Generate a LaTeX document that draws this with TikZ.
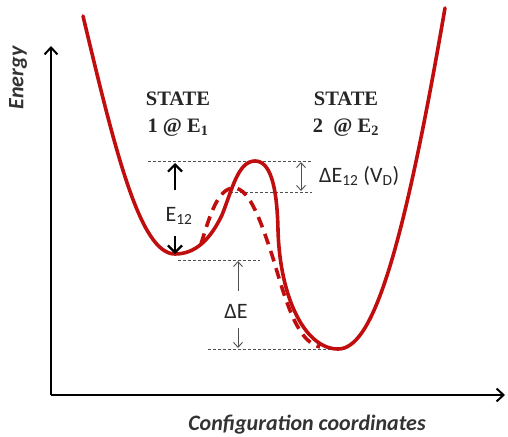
\documentclass[tikz,border=0pt]{standalone}
\usepackage{fontspec}
\setmainfont{Liberation Serif}
\newfontfamily\calibri{Carlito}
\usetikzlibrary{arrows.meta}
\definecolor{curvered}{RGB}{192,14,14}
\definecolor{guidegray}{RGB}{80,80,80}

\begin{document}
\begin{tikzpicture}[x=1pt,y=-1pt,
  well/.style={curvered,line width=3.6pt,line cap=round,line join=round},
  guide/.style={guidegray,line width=0.8pt,dash pattern=on 3pt off 2pt},
  thinarr/.style={guidegray,line width=0.9pt,-{Straight Barb[length=5pt,width=9pt]}},
  boldarr/.style={black,line width=2.2pt,-{Straight Barb[length=7pt,width=14pt]}},
  axisline/.style={black,line width=2pt,-{Straight Barb[length=7pt,width=13pt]}},
  lab/.style={font=\calibri\fontsize{22}{26}\selectfont,text=black!85,inner sep=0pt},
  axislab/.style={font=\calibri\bfseries\itshape\fontsize{22}{26}\selectfont,text=black!80,inner sep=0pt},
  statelab/.style={font=\bfseries\fontsize{20.5}{27}\selectfont,align=center,text=black!85,inner sep=0pt}]
\useasboundingbox (0,0) rectangle (508,436);

% axes
\coordinate (origin) at (51,395);
\coordinate (ytip) at (51,46);
\coordinate (xtip) at (505,395);
\draw[axisline] (origin) -- (ytip);
\draw[axisline] (origin) -- (xtip);
\node[axislab,rotate=90] (energy) at (18,78) {Energy};
\node[axislab] (config) at (307,425) {Configuration coordinates};

% energy levels
\coordinate (peakL) at (148,161);  \coordinate (peakR) at (312,161);
\coordinate (bumpL) at (230,192);  \coordinate (bumpR) at (312,192);
\coordinate (min1L) at (178,260);  \coordinate (min1R) at (260,260);
\coordinate (min2L) at (208,349);  \coordinate (min2R) at (342,349);
\draw[guide] (peakL) -- (peakR);
\draw[guide] (bumpL) -- (bumpR);
\draw[guide] (min1L) -- (min1R);
\draw[guide] (min2L) -- (min2R);

% potential wells
\draw[well] (83,16) .. controls (115,150) and (140,254) .. (175,254)
  .. controls (195,254) and (210,240) .. (222,215)
  .. controls (232,190) and (238,161) .. (255,161)
  .. controls (270,161) and (277,185) .. (278,230)
  .. controls (280,300) and (306,349) .. (338,349)
  .. controls (370,349) and (400,270) .. (445,8);
\draw[well,line cap=butt,dash pattern=on 11pt off 7pt] (201,244) .. controls (210,215) and (218,188) .. (234,188)
  .. controls (250,188) and (262,225) .. (272,255)
  .. controls (283,290) and (295,342) .. (320,347);

% E12 barrier
\coordinate (e12up) at (175,190);  \coordinate (e12top) at (175,163);
\coordinate (e12dn) at (175,236);  \coordinate (e12bot) at (175,254);
\draw[boldarr] (e12up) -- (e12top);
\draw[boldarr] (e12dn) -- (e12bot);
\node[lab] (e12) at (179,216) {E\textsubscript{12}};

% Delta E
\coordinate (deup) at (238,291);  \coordinate (detop) at (238,261);
\coordinate (dedn) at (238,328);  \coordinate (debot) at (238,348);
\draw[thinarr] (deup) -- (detop);
\draw[thinarr] (dedn) -- (debot);
\node[lab] (de) at (236,311) {ΔE};

% Delta E12
\coordinate (vdtop) at (301,162);  \coordinate (vdbot) at (301,191);
\draw[thinarr,{Straight Barb[length=5pt,width=9pt]}-{Straight Barb[length=5pt,width=9pt]}] (vdtop) -- (vdbot);
\node[lab,anchor=west] (de12) at (319,176) {ΔE\textsubscript{12} (V\textsubscript{D})};

% states
\node[statelab] (state1) at (178,114) {STATE\\1 @ E\textsubscript{1}};
\node[statelab] (state2) at (346,114) {STATE\\2~ @ E\textsubscript{2}};
\end{tikzpicture}
\end{document}
